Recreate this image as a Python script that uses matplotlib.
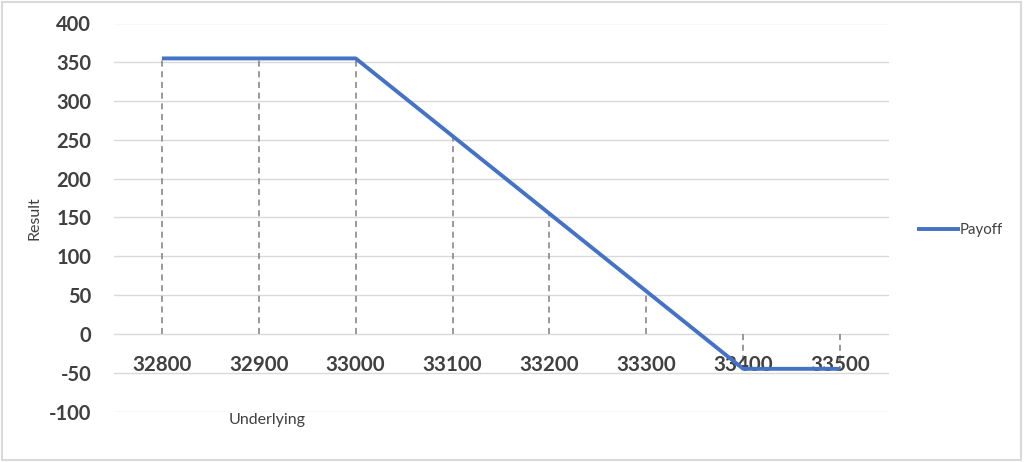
import matplotlib
matplotlib.use("Agg")
import matplotlib.pyplot as plt
from matplotlib.patches import Rectangle

categories = ["32800", "32900", "33000", "33100", "33200", "33300", "33400", "33500"]
payoff = [355, 355, 355, 255, 155, 55, -45, -45]
yticks = [-100, -50, 0, 50, 100, 150, 200, 250, 300, 350, 400]

plt.rcParams['font.family'] = ['Lato', 'DejaVu Sans']

fig = plt.figure(figsize=(10.24, 4.62), dpi=100)
ax = fig.add_axes([113.5/1024, 50.5/462, 775/1024, 388/462])

x = list(range(len(categories)))
ax.set_xlim(-0.5, len(categories) - 0.5)
ax.set_ylim(-100, 400)

for yv in yticks:
    ax.axhline(yv, color="#d9d9d9", lw=1.0, zorder=1)

ax.vlines(x, 0, payoff, colors="#7f7f7f", linestyles=(0, (4, 3)), lw=1.1, zorder=2)

line, = ax.plot(x, payoff, color="#4472c4", lw=2.8, solid_capstyle="butt", zorder=4, label="Payoff")

for xi, lab in zip(x, categories):
    ax.text(xi, -40, lab, ha="center", va="center", fontsize=14.8, fontweight="bold",
            color="#404040", zorder=3)

ax.set_yticks(yticks)
ax.set_yticklabels([str(v) for v in yticks], fontsize=14.5, fontweight="bold", color="#404040")
ax.tick_params(axis="y", length=0, pad=16)
ax.set_xticks([])
for s in ax.spines.values():
    s.set_visible(False)

fig.text(35/1024, 1 - 218/462, "Result", rotation=90, ha="center", va="center",
         fontsize=11.5, color="#404040")
fig.text(267/1024, 1 - 420/462, "Underlying", ha="center", va="center",
         fontsize=11.5, color="#404040")

leg = fig.legend(handles=[line], labels=["Payoff"], loc="center left",
                 bbox_to_anchor=(903/1024, 1 - 230/462), frameon=False,
                 fontsize=10.8, handlelength=2.9, handletextpad=0.0, labelcolor="#404040")

fig.patches.append(Rectangle((0.002, 0.004), 0.995, 0.992, transform=fig.transFigure,
                             fill=False, edgecolor="#d9d9d9", lw=1.5))

fig.savefig("out.png", dpi=100)
